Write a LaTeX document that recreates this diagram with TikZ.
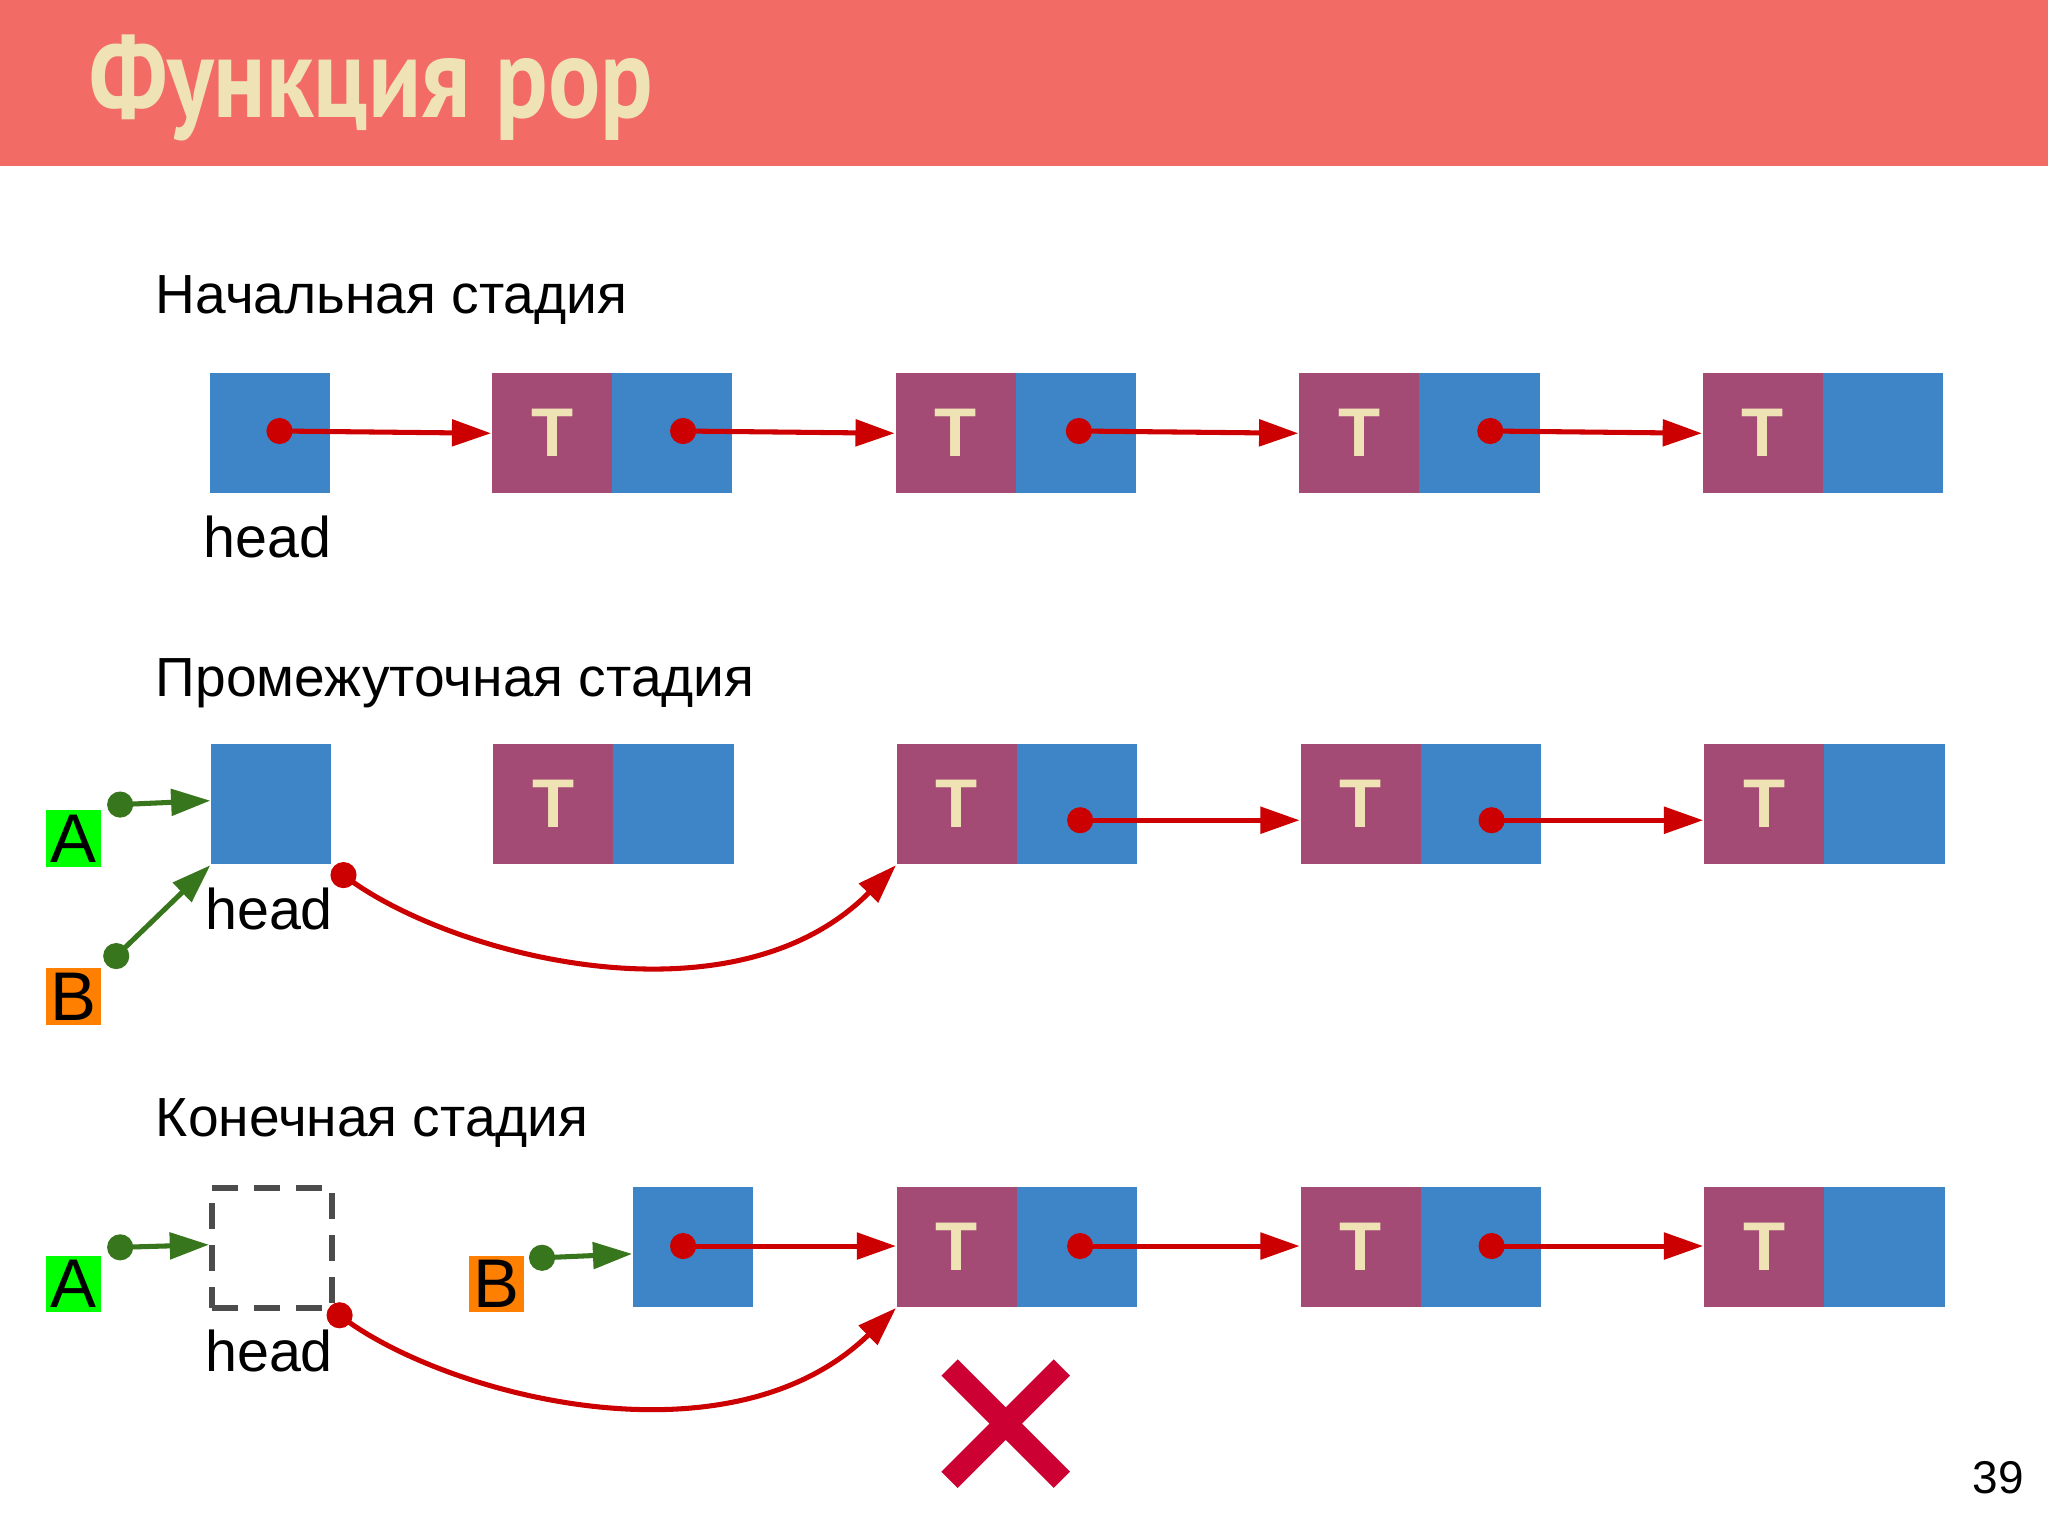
\documentclass[tikz,border=0pt]{standalone}
\usepackage{fontspec}
\setmainfont{Liberation Sans}
\newfontfamily\titlefont{PT Sans}
\usetikzlibrary{arrows.meta}
\definecolor{bar}{HTML}{F26B65}
\definecolor{cream}{HTML}{EFE3B5}
\definecolor{cblue}{HTML}{3D85C6}
\definecolor{cpurp}{HTML}{A34B75}
\definecolor{cred}{HTML}{CC0000}
\definecolor{cgreen}{HTML}{38761D}
\definecolor{xred}{HTML}{CC0033}
\tikzset{
  cell/.style={minimum width=0.92cm,minimum height=0.92cm,inner sep=0pt,anchor=north west},
  bcell/.style={cell,fill=cblue},
  tcell/.style={cell,fill=cpurp,text=cream,font=\bfseries\fontsize{15}{15}\selectfont},
  rarrow/.style={draw=cred,line width=1.1pt,-{Triangle[length=0.3cm,width=0.2cm]}},
  garrow/.style={draw=cgreen,line width=1.1pt,-{Triangle[length=0.3cm,width=0.2cm]}},
  rdot/.style={circle,fill=cred,inner sep=0pt,minimum size=0.2cm},
  gdot/.style={circle,fill=cgreen,inner sep=0pt,minimum size=0.2cm},
  stage/.style={anchor=base west,font=\fontsize{12}{12}\selectfont},
  headlbl/.style={font=\fontsize{12.5}{12.5}\selectfont},
  lblA/.style={fill=green,inner sep=1pt,font=\fontsize{15}{15}\selectfont},
  lblB/.style={fill=orange,inner sep=1pt,font=\fontsize{15}{15}\selectfont}
}
\begin{document}
\begin{tikzpicture}[x=0.01cm,y=-0.01cm]
\useasboundingbox (0,0) rectangle (1568,1176);
\fill[white] (0,0) rectangle (1568,1176);
\fill[bar] (0,0) rectangle (1568,127);
\node[anchor=base west,text=cream,font=\titlefont\bfseries\fontsize{25}{25}\selectfont,xscale=0.85] (title) at (58,90) {Функция pop};
% Row 1
\node[stage] (s1) at (107,240) {Начальная стадия};
\node[bcell] (h1) at (160,285) {};
\node[headlbl] (hl1) at (205,411) {head};
\node[tcell] (t11) at (376,285) {T}; \node[bcell] (b11) at (468,285) {};
\node[tcell] (t12) at (685,285) {T}; \node[bcell] (b12) at (777,285) {};
\node[tcell] (t13) at (994,285) {T}; \node[bcell] (b13) at (1086,285) {};
\node[tcell] (t14) at (1303,285) {T}; \node[bcell] (b14) at (1395,285) {};
\node[rdot] (d10) at (214,330) {}; \node[rdot] (d11) at (523,330) {};
\node[rdot] (d12) at (826,330) {}; \node[rdot] (d13) at (1141,330) {};
\draw[rarrow] (d10.center) -- (t11.west);
\draw[rarrow] (d11.center) -- (t12.west);
\draw[rarrow] (d12.center) -- (t13.west);
\draw[rarrow] (d13.center) -- (t14.west);
% Row 2
\node[stage] (s2) at (107,533) {Промежуточная стадия};
\node[bcell] (h2) at (161,569) {};
\node[headlbl] (hl2) at (206,696) {head};
\node[tcell] (t21) at (377,569) {T}; \node[bcell] (b21) at (469,569) {};
\node[tcell] (t22) at (686,569) {T}; \node[bcell] (b22) at (778,569) {};
\node[tcell] (t23) at (995,569) {T}; \node[bcell] (b23) at (1087,569) {};
\node[tcell] (t24) at (1304,569) {T}; \node[bcell] (b24) at (1396,569) {};
\node[rdot] (d22) at (827,628) {}; \node[rdot] (d23) at (1142,628) {};
\draw[rarrow] (d22.center) -- (t23.west |- d22);
\draw[rarrow] (d23.center) -- (t24.west |- d23);
\node[rdot] (d20) at (263,670) {};
\draw[rarrow] (d20.center) .. controls (340,730) and (560,790) .. (t22.south west);
\node[lblA] (a2) at (56,642) {A};
\node[lblB] (bb2) at (56,763) {B};
\node[gdot] (ga2) at (92,616) {};
\node[gdot] (gb2) at (89,732) {};
\draw[garrow] (ga2.center) -- (h2.west |- 0,613);
\draw[garrow] (gb2.center) -- (h2.south west);
% Row 3
\node[stage] (s3) at (107,870) {Конечная стадия};
\node[cell,draw=black!70,dash pattern=on 0.2cm off 0.12cm,line width=1.3pt] (h3) at (160,907) {};
\node[headlbl] (hl3) at (206,1034) {head};
\node[bcell] (b30) at (484,908) {};
\node[tcell] (t31) at (686,908) {T}; \node[bcell] (b31) at (778,908) {};
\node[tcell] (t32) at (995,908) {T}; \node[bcell] (b32) at (1087,908) {};
\node[tcell] (t33) at (1304,908) {T}; \node[bcell] (b33) at (1396,908) {};
\node[rdot] (d30) at (523,954) {}; \node[rdot] (d31) at (827,954) {}; \node[rdot] (d32) at (1142,954) {};
\draw[rarrow] (d30.center) -- (t31.west |- d30);
\draw[rarrow] (d31.center) -- (t32.west |- d31);
\draw[rarrow] (d32.center) -- (t33.west |- d32);
\node[rdot] (d3h) at (260,1007) {};
\draw[rarrow] (d3h.center) .. controls (337,1067) and (557,1127) .. (t31.south west);
\node[lblA] (a3) at (56,983) {A};
\node[lblB] (bb3) at (380,983) {B};
\node[gdot] (ga3) at (92,955) {};
\node[gdot] (gb3) at (415,963) {};
\draw[garrow] (ga3.center) -- (h3.west |- 0,953);
\draw[garrow] (gb3.center) -- (b30.west |- 0,960);
\draw[draw=xred,line width=5pt] (727,1047) -- (813,1133) (813,1047) -- (727,1133);
\node[font=\fontsize{10}{10}\selectfont] (pg) at (1530,1131) {39};
\end{tikzpicture}
\end{document}
